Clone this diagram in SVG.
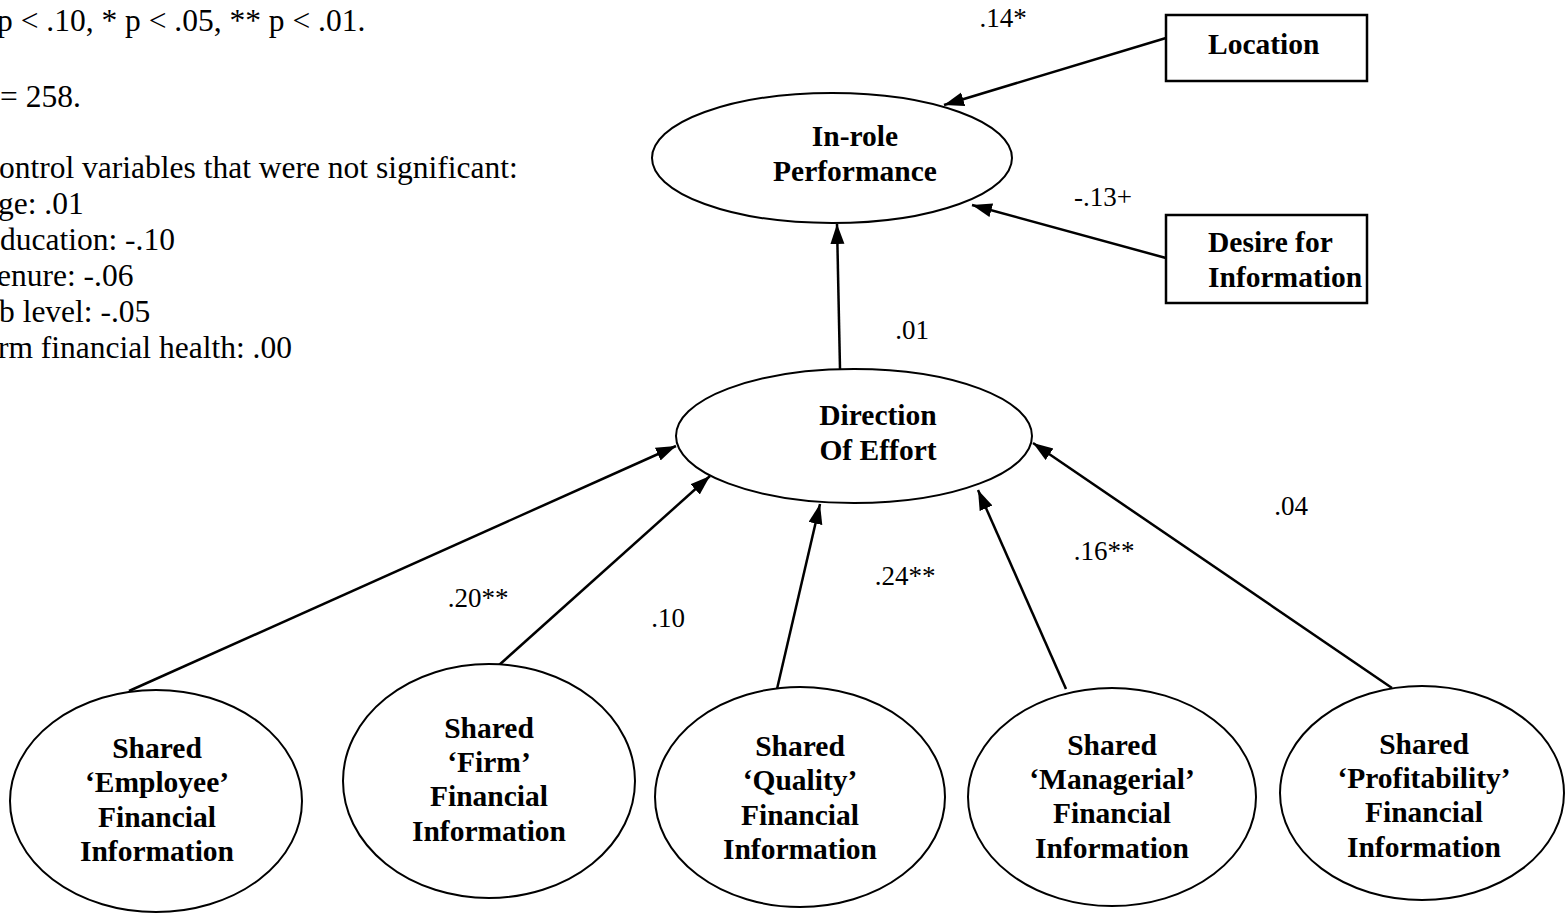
<svg xmlns="http://www.w3.org/2000/svg" width="1565" height="913" viewBox="0 0 1565 913">
  <style>
    .node { fill: #ffffff; stroke: #000000; stroke-width: 2; }
    .box { fill: #ffffff; stroke: #000000; stroke-width: 2.5; }
    text { font-family: 'Liberation Serif', 'DejaVu Serif', serif; fill: #000000; }
    .lbl { font-weight: bold; font-size: 29.5px; text-anchor: middle; }
    .lbl-left { font-weight: bold; font-size: 29.5px; }
    .coef { font-size: 27px; text-anchor: middle; }
    .note { font-size: 31.5px; }
    .edge { stroke: #000000; stroke-width: 2.5; fill: none; marker-end: url(#arrow); }
  </style>
  <defs>
    <marker id="arrow" markerUnits="userSpaceOnUse" markerWidth="22" markerHeight="16" refX="20" refY="7" orient="auto">
      <path d="M0,0 L20,7 L0,14 z" fill="#000000"/>
    </marker>
  </defs>

  <rect x="0" y="0" width="1565" height="913" fill="#ffffff"/>

  <!-- notes block -->
  <g id="notes">
    <text class="note" x="-3" y="31">p &lt; .10, * p &lt; .05, ** p &lt; .01.</text>
    <text class="note" x="0" y="107">= 258.</text>
    <text class="note" x="-1" y="178">ontrol variables that were not significant:</text>
    <text class="note" x="-2" y="214">ge: .01</text>
    <text class="note" x="0" y="250">ducation: -.10</text>
    <text class="note" x="-3" y="286">enure: -.06</text>
    <text class="note" x="-1" y="322">b level: -.05</text>
    <text class="note" x="-2" y="358">rm financial health: .00</text>
  </g>

  <!-- connectors -->
  <g id="connectors">
    <line class="edge" x1="1166" y1="38" x2="944" y2="105"/>
    <line class="edge" x1="1166" y1="258" x2="972" y2="205"/>
    <line class="edge" x1="840" y1="369" x2="837" y2="224"/>
    <line class="edge" x1="129" y1="691" x2="676" y2="446"/>
    <line class="edge" x1="498" y1="666" x2="710" y2="476"/>
    <line class="edge" x1="777" y1="689" x2="820" y2="504"/>
    <line class="edge" x1="1066" y1="689" x2="978" y2="490"/>
    <line class="edge" x1="1392" y1="688" x2="1033" y2="443"/>
  </g>

  <!-- path coefficients -->
  <g id="coefficients">
    <text class="coef" x="1003" y="27">.14*</text>
    <text class="coef" x="1103" y="206">-.13+</text>
    <text class="coef" x="912" y="339">.01</text>
    <text class="coef" x="478" y="607">.20**</text>
    <text class="coef" x="668" y="627">.10</text>
    <text class="coef" x="905" y="585">.24**</text>
    <text class="coef" x="1104" y="560">.16**</text>
    <text class="coef" x="1291" y="515">.04</text>
  </g>

  <g id="location">
    <rect class="box" x="1166" y="15" width="201" height="66"/>
    <text class="lbl-left" x="1208" y="54">Location</text>
  </g>

  <g id="desire">
    <rect class="box" x="1166" y="215" width="201" height="88"/>
    <text class="lbl-left" x="1208" y="252">Desire for</text>
    <text class="lbl-left" x="1208" y="287">Information</text>
  </g>

  <g id="inrole">
    <ellipse class="node" cx="832" cy="158" rx="180" ry="65"/>
    <text class="lbl" x="855" y="146">In-role</text>
    <text class="lbl" x="855" y="181">Performance</text>
  </g>

  <g id="direction">
    <ellipse class="node" cx="854" cy="436" rx="178" ry="67"/>
    <text class="lbl" x="878" y="425">Direction</text>
    <text class="lbl" x="878" y="460">Of Effort</text>
  </g>

  <g id="employee">
    <ellipse class="node" cx="156" cy="801" rx="146" ry="111"/>
    <text class="lbl" x="157" y="758">Shared</text>
    <text class="lbl" x="157" y="792">‘Employee’</text>
    <text class="lbl" x="157" y="827">Financial</text>
    <text class="lbl" x="157" y="861">Information</text>
  </g>

  <g id="firm">
    <ellipse class="node" cx="489" cy="781" rx="146" ry="117"/>
    <text class="lbl" x="489" y="738">Shared</text>
    <text class="lbl" x="489" y="772">‘Firm’</text>
    <text class="lbl" x="489" y="806">Financial</text>
    <text class="lbl" x="489" y="841">Information</text>
  </g>

  <g id="quality">
    <ellipse class="node" cx="800" cy="797" rx="145" ry="110"/>
    <text class="lbl" x="800" y="756">Shared</text>
    <text class="lbl" x="800" y="790">‘Quality’</text>
    <text class="lbl" x="800" y="825">Financial</text>
    <text class="lbl" x="800" y="859">Information</text>
  </g>

  <g id="managerial">
    <ellipse class="node" cx="1112" cy="797" rx="144" ry="109"/>
    <text class="lbl" x="1112" y="755">Shared</text>
    <text class="lbl" x="1112" y="789">‘Managerial’</text>
    <text class="lbl" x="1112" y="823">Financial</text>
    <text class="lbl" x="1112" y="858">Information</text>
  </g>

  <g id="profitability">
    <ellipse class="node" cx="1422" cy="793" rx="142" ry="107"/>
    <text class="lbl" x="1424" y="754">Shared</text>
    <text class="lbl" x="1424" y="788">‘Profitability’</text>
    <text class="lbl" x="1424" y="822">Financial</text>
    <text class="lbl" x="1424" y="857">Information</text>
  </g>
</svg>
